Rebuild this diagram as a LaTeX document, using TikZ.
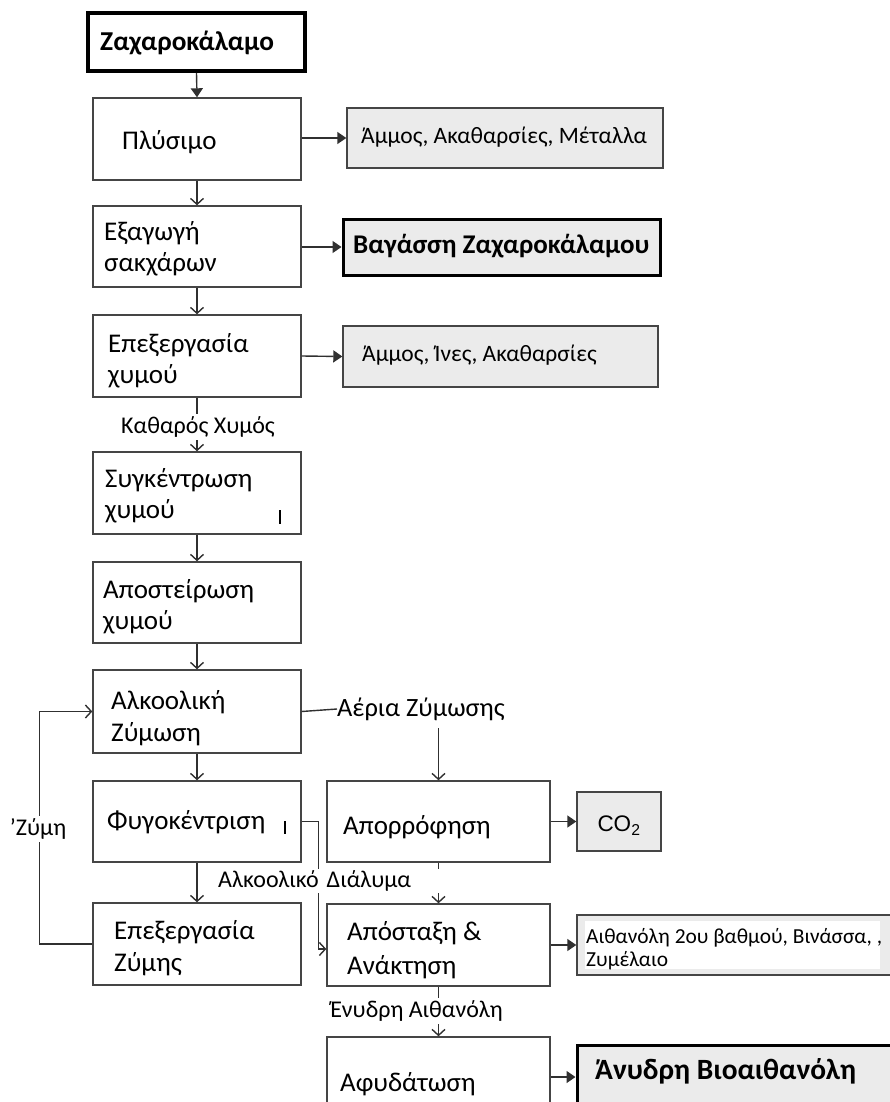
\documentclass[tikz,border=0pt]{standalone}
\usepackage{fontspec}
\setmainfont{Carlito}
\newfontfamily\arialf{Liberation Sans}
\usetikzlibrary{arrows.meta}
\definecolor{boxc}{HTML}{454545}
\definecolor{fillc}{HTML}{EBEBEB}
\definecolor{linec}{HTML}{303030}
\begin{document}
\begin{tikzpicture}[x=1pt,y=-1pt,
  box/.style={draw=boxc, line width=1.4pt, minimum width=208pt, minimum height=82pt, inner sep=0pt},
  rbox/.style={box, minimum width=223pt},
  sbox/.style={box, fill=fillc},
  txt/.style={anchor=west, align=left, inner sep=0pt, font=\fontsize{27}{31}\selectfont},
  lbl/.style={fill=white, inner sep=3pt, font=\fontsize{24}{28}\selectfont},
  fa/.style={draw=linec, line width=1.4pt, -{Triangle[length=9pt,width=12pt]}},
  oa/.style={draw=linec, line width=1.4pt, -{Straight Barb[length=6pt,width=13pt]}},
  ln/.style={draw=linec, line width=1.4pt},
]
\useasboundingbox (0,0) rectangle (889,1102);
% left column boxes
\node[box, draw=black, line width=4pt, minimum width=217pt, minimum height=58pt] (zach) at (196.5,42) {};
\node[box] (plys) at (197,139) {};
\node[box, minimum height=81pt] (exag) at (197,246.5) {};
\node[box] (epex) at (197,356) {};
\node[box] (syg) at (197,493) {};
\node[box, minimum height=81pt] (apost) at (197,602.5) {};
\node[box, minimum height=83pt] (alk) at (197,711.5) {};
\node[box, minimum height=81pt] (fyg) at (197,821.5) {};
\node[box] (epz) at (197,944) {};
% right column boxes
\node[rbox, minimum height=81pt] (apor) at (438.5,821.5) {};
\node[rbox] (apx) at (438.5,945) {};
\node[rbox, minimum height=88pt] (afyd) at (438.5,1081) {};
% side boxes
\node[sbox, minimum width=316pt, minimum height=60pt] (amm1) at (505,138) {};
\node[sbox, draw=black, line width=3pt, minimum width=317pt, minimum height=56pt] (vag) at (501.5,247) {};
\node[sbox, minimum width=315pt, minimum height=61pt] (amm2) at (500.5,356.5) {};
\node[sbox, minimum width=84pt, minimum height=59pt] (co2) at (619,821.5) {};
\node[sbox, minimum width=343pt, minimum height=60pt] (aith) at (748.5,945) {};
\node[fill=white, minimum width=295pt, minimum height=48pt, inner sep=0pt] (aithw) at (732.5,945) {};
\node[sbox, draw=black, line width=3pt, minimum width=343pt, minimum height=95pt] (anyd) at (748.5,1092.5) {};
% texts
\node[txt, font=\fontsize{27.3}{32}\selectfont\bfseries] (tzach) at (100,43) {Ζαχαροκάλαμο};
\node[txt] (tplys) at (122,142) {Πλύσιμο};
\node[txt] (texag) at (104,249) {Εξαγωγή\\σακχάρων};
\node[txt] (tepex) at (108,361) {Επεξεργασία\\χυμού};
\node[txt] (tsyg) at (105,496) {Συγκέντρωση\\χυμού};
\node[txt] (tapost) at (103,607) {Αποστείρωση\\χυμού};
\node[txt, font=\fontsize{27}{32}\selectfont] (talk) at (111,718) {Αλκοολική\\Ζύμωση};
\node[txt] (tfyg) at (107,822) {Φυγοκέντριση};
\node[txt, font=\fontsize{27}{32}\selectfont] (tepz) at (114,948) {Επεξεργασία\\Ζύμης};
\node[txt] (tapor) at (343,827) {Απορρόφηση};
\node[txt, font=\fontsize{27}{34}\selectfont] (tapx) at (347,950) {Απόσταξη \&\\Ανάκτηση};
\node[txt] (tafyd) at (340,1084) {Αφυδάτωση};
\node[txt, font=\fontsize{23.5}{27}\selectfont] (tamm1) at (361,137) {Άμμος, Ακαθαρσίες, Μέταλλα};
\node[txt, font=\fontsize{27}{31}\selectfont\bfseries] (tvag) at (353,246) {Βαγάσση Ζαχαροκάλαμου};
\node[txt, font=\fontsize{23.5}{27}\selectfont] (tamm2) at (362,355) {Άμμος, Ίνες, Ακαθαρσίες};
\node[inner sep=0pt, font=\fontsize{22.5}{26}\selectfont\arialf] (tco2) at (619,826) {CO\textsubscript{2}};
\node[txt, font=\fontsize{21.4}{22.5}\selectfont] (taith) at (586,949) {Αιθανόλη 2ου βαθμού, Βινάσσα, ,\\Ζυμέλαιο};
\node[txt, font=\fontsize{29.4}{34}\selectfont\bfseries] (tanyd) at (595,1071) {Άνυδρη Βιοαιθανόλη};
\node[lbl, anchor=west, inner sep=0pt, font=\fontsize{26.4}{30}\selectfont] (laer) at (337,709) {Αέρια Ζύμωσης};
% connectors
\draw[fa] (zach.south) -- (plys.north);
\draw[oa] (plys.south) -- (exag.north);
\draw[oa] (exag.south) -- (epex.north);
\draw[oa] (epex.south) -- (syg.north);
\draw[oa] (syg.south) -- (apost.north);
\draw[oa] (apost.south) -- (alk.north);
\draw[oa] (alk.south) -- (fyg.north);
\draw[oa] (fyg.south) -- (epz.north);
\draw[fa] (plys.east |- amm1.west) -- (amm1.west);
\draw[fa] (exag.east |- vag.west) -- (vag.west);
\draw[fa] (epex.east) -- (amm2.west);
\draw[fa] (apor.east) -- (co2.west);
\draw[fa] (apx.east) -- (aith.west);
\draw[fa] (afyd.east |- 0,1077) -- (anyd.west |- 0,1077);
\draw[ln] (alk.east) -- (laer.west);
\coordinate (aerb) at (438.5,728);
\draw[oa] (aerb) -- (apor.north);
\draw[oa] (apor.south) -- (apx.north);
\draw[oa] (apx.south) -- (afyd.north);
\draw[oa] (epz.west) -- ++(-53,0) |- (alk.west);
\draw[oa] (fyg.east) -- ++(17,0) |- ([yshift=-4pt]apx.west);
% labels on top of connectors
\node[lbl] (lkath) at (198,427) {Καθαρός Χυμός};
\node[lbl, anchor=west, text width=230pt, inner xsep=6pt, inner ysep=2pt, align=left] (lalk) at (212,881) {Αλκοολικό Διάλυμα};
\node[lbl] (lenyd) at (416.5,1011) {Ένυδρη Αιθανόλη};
\node[lbl, inner xsep=1pt] (lzym) at (38,829) {’Ζύμη};
% small marks
\draw[line width=1.8pt] (280,510) -- (280,524);
\draw[line width=1.8pt] (285,821) -- (285,834);
\end{tikzpicture}
\end{document}
